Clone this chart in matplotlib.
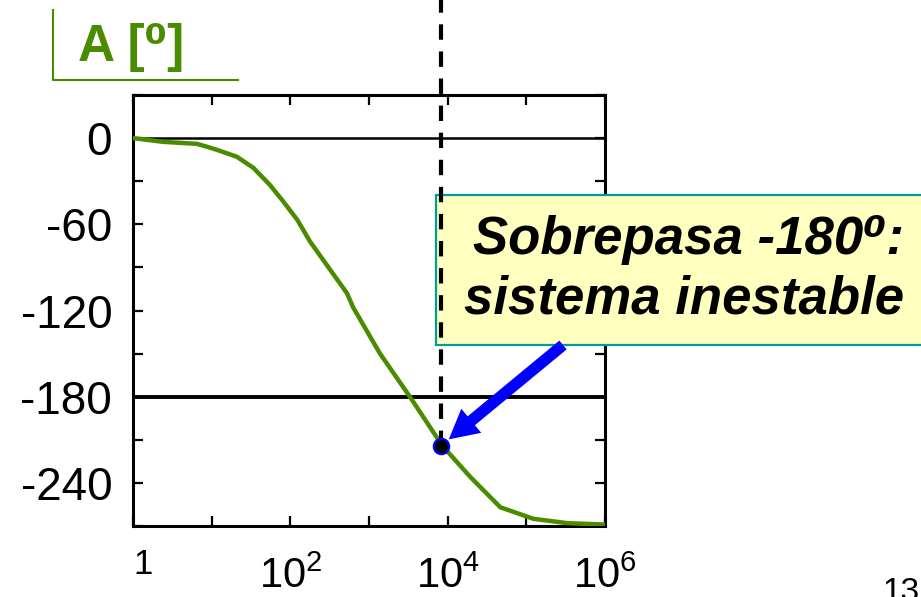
import matplotlib
matplotlib.use('Agg')
import matplotlib.pyplot as plt
from matplotlib.patches import Rectangle
from matplotlib.lines import Line2D
from matplotlib.ticker import FixedLocator, NullFormatter

plt.rcParams['font.family'] = ['Liberation Sans', 'DejaVu Sans']
plt.rcParams['mathtext.fontset'] = 'custom'
plt.rcParams['mathtext.rm'] = 'Liberation Sans'
plt.rcParams['axes.unicode_minus'] = False

# phase curve (frequency, degrees)
freq = [1, 2.4, 6.5, 8.7, 11.7, 20.9, 33.9, 55, 81, 123, 178, 263, 525, 631,
        1380, 3310, 8510, 19500, 46800, 123000, 331000, 1e6]
phase = [0, -2.6, -4, -6, -8.2, -13, -20.7, -32.6, -44, -57, -72, -85, -108,
         -118, -150, -180, -214, -236, -257, -265, -268, -269]

# crossing point marked on the chart
w_cross = 8300
ph_cross = -214

xlabel_pos = [1, 1e2, 1e4, 1e6]
xlabel_txt = ['1', r'$\mathregular{10^{2}}$', r'$\mathregular{10^{4}}$', r'$\mathregular{10^{6}}$']
xminor = [10, 1e3, 1e5]
yticks = [0, -60, -120, -180, -240]
yminor = [30, -30, -90, -150, -210, -270]

green = '#4a8c00'

fig = plt.figure(figsize=(9.21, 5.97), dpi=100)
ax = fig.add_axes([133 / 921, 1 - 526 / 597, 472 / 921, 431 / 597])

ax.plot(freq, phase, color=green, lw=3.2, zorder=3, solid_capstyle='butt')
ax.axhline(0, color='black', lw=1.8, zorder=2)
ax.axhline(-180, color='black', lw=2.8, zorder=2)

ax.set_xscale('log')
ax.set_xlim(1, 1e6)
ax.set_ylim(-270, 30)

# ticks
ax.xaxis.set_major_locator(FixedLocator(xlabel_pos))
ax.xaxis.set_minor_locator(FixedLocator(xminor))
ax.xaxis.set_major_formatter(NullFormatter())
ax.xaxis.set_minor_formatter(NullFormatter())
ax.set_yticks(yticks)
ax.yaxis.set_minor_locator(FixedLocator(yminor))
ax.tick_params(which='both', direction='in', top=True, right=True,
               length=7, width=1.6, color='black')
ax.tick_params(axis='y', labelsize=33, pad=15)
for s in ax.spines.values():
    s.set_linewidth(2.2)

# x tick labels, "1" is smaller and a little higher than the powers
for i, (xv, t) in enumerate(zip(xlabel_pos, xlabel_txt)):
    if i == 0:
        ax.text(xv, -0.112, t, transform=ax.get_xaxis_transform(),
                ha='left', va='baseline', fontsize=25)
    else:
        ax.text(xv, -0.143, t, transform=ax.get_xaxis_transform(),
                ha='center', va='baseline', fontsize=30)

# yellow note box
box = Rectangle((436 / 921, 1 - 345 / 597), 495 / 921, 150 / 597,
                transform=fig.transFigure, facecolor='#ffffbf',
                edgecolor='#009c9c', lw=1.6, clip_on=False, zorder=4)
ax.add_patch(box)
ax.text(904 / 921, 1 - 270 / 597, 'Sobrepasa -180\u2070:\nsistema inestable',
        transform=fig.transFigure, ha='right', va='center',
        multialignment='right', fontsize=38, fontweight='bold',
        fontstyle='italic', linespacing=1.25, zorder=6)

# dashed vertical line through the crossing, going above the plot
ax.plot([w_cross, w_cross], [ph_cross, 110], color='black', lw=3.0,
        dashes=(3.7, 2.8), clip_on=False, zorder=5)
ax.plot([w_cross], [ph_cross], 'o', ms=11, mfc='black', mec='#0000ff',
        mew=1.6, zorder=7, clip_on=False)

# blue arrow to the point
ax.annotate('', xy=(w_cross, ph_cross), xytext=(563 / 921, 1 - 345 / 597),
            textcoords='figure fraction',
            arrowprops=dict(arrowstyle='simple,head_width=1.5,head_length=1.4,tail_width=0.55',
                            mutation_scale=15, color='#0000ff', lw=0,
                            shrinkA=0, shrinkB=7),
            annotation_clip=False, zorder=6)

# green header "A [0]"
fig.text(78 / 921, 1 - 61 / 597, 'A [\u2070]', color=green, fontsize=37,
         fontweight='bold', ha='left', va='baseline')
fig.add_artist(Line2D([53 / 921, 53 / 921, 238 / 921],
                      [1 - 10 / 597, 1 - 80 / 597, 1 - 80 / 597],
                      color=green, lw=1.5))

# page number, cut off at the bottom edge as in the slide
fig.text(882 / 921, 1 - 577 / 597, '13', fontsize=24, ha='left', va='top')

fig.savefig('out.png', dpi=100)
